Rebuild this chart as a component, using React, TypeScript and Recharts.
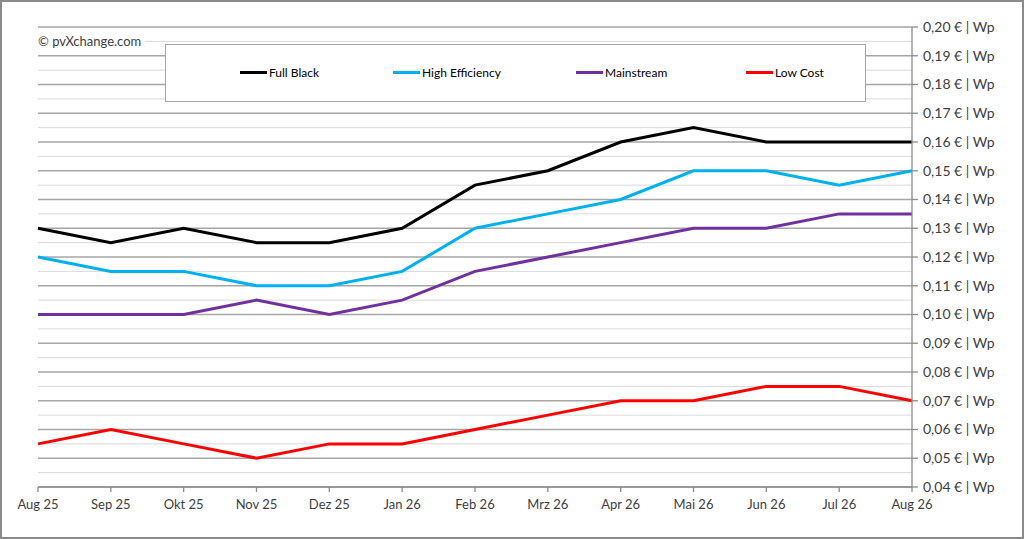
import { LineChart, Line, XAxis, YAxis, CartesianGrid } from 'recharts'

const MONTHS = [
  'Aug 25', 'Sep 25', 'Okt 25', 'Nov 25', 'Dez 25', 'Jan 26', 'Feb 26',
  'Mrz 26', 'Apr 26', 'Mai 26', 'Jun 26', 'Jul 26', 'Aug 26',
]

const FULL_BLACK = [0.13, 0.125, 0.13, 0.125, 0.125, 0.13, 0.145, 0.15, 0.16, 0.165, 0.16, 0.16, 0.16]
const HIGH_EFFICIENCY = [0.12, 0.115, 0.115, 0.11, 0.11, 0.115, 0.13, 0.135, 0.14, 0.15, 0.15, 0.145, 0.15]
const MAINSTREAM = [0.1, 0.1, 0.1, 0.105, 0.1, 0.105, 0.115, 0.12, 0.125, 0.13, 0.13, 0.135, 0.135]
const LOW_COST = [0.055, 0.06, 0.055, 0.05, 0.055, 0.055, 0.06, 0.065, 0.07, 0.07, 0.075, 0.075, 0.07]

const Y_TICKS = [
  0.04, 0.05, 0.06, 0.07, 0.08, 0.09, 0.1, 0.11, 0.12,
  0.13, 0.14, 0.15, 0.16, 0.17, 0.18, 0.19, 0.2,
]
const Y_MINOR = [
  0.045, 0.055, 0.065, 0.075, 0.085, 0.095, 0.105, 0.115,
  0.125, 0.135, 0.145, 0.155, 0.165, 0.175, 0.185, 0.195,
]

const SERIES = [
  { key: 'fullBlack', name: 'Full Black', color: '#000000', values: FULL_BLACK },
  { key: 'highEff', name: 'High Efficiency', color: '#00b0f0', values: HIGH_EFFICIENCY },
  { key: 'mainstream', name: 'Mainstream', color: '#7030a0', values: MAINSTREAM },
  { key: 'lowCost', name: 'Low Cost', color: '#ff0000', values: LOW_COST },
]

// legend item positions inside the legend box
const LEGEND_X = [74, 227, 410, 580]

const FONT = 'Lato, "Open Sans", sans-serif'
const AXIS_COLOR = '#8c8c8c'

const data = MONTHS.map((m, i) => {
  const row: Record<string, string | number> = { month: m }
  SERIES.forEach((s) => {
    row[s.key] = s.values[i]
  })
  return row
})

const fmtY = (v: number) => `${v.toFixed(2).replace('.', ',')} € | Wp`

export default function App() {
  return (
    <div
      style={{
        position: 'absolute',
        left: 0,
        top: 0,
        width: 1024,
        height: 539,
        background: '#fff',
        fontFamily: FONT,
      }}
    >
      <div
        style={{
          position: 'absolute',
          inset: 0,
          border: '2px solid #8a8a8a',
          boxSizing: 'border-box',
          pointerEvents: 'none',
        }}
      />
      <LineChart
        width={1024}
        height={539}
        data={data}
        margin={{ top: 27, right: 12, bottom: 22, left: 38 }}
      >
        <CartesianGrid
          vertical={false}
          horizontalValues={Y_MINOR}
          stroke='#d9d9d9'
          strokeWidth={1}
        />
        <CartesianGrid
          vertical={false}
          horizontalValues={Y_TICKS}
          stroke='#a6a6a6'
          strokeWidth={1.3}
        />
        <XAxis
          dataKey='month'
          height={30}
          tickSize={5}
          tickMargin={8}
          interval={0}
          axisLine={{ stroke: AXIS_COLOR, strokeWidth: 1.3 }}
          tickLine={{ stroke: AXIS_COLOR, strokeWidth: 1.3 }}
          tick={{ fontSize: 13, fill: '#404040', fontFamily: FONT }}
        />
        <YAxis
          orientation='right'
          width={100}
          domain={[0.04, 0.2]}
          ticks={Y_TICKS}
          interval={0}
          tickSize={6}
          tickMargin={5}
          tickFormatter={fmtY}
          axisLine={{ stroke: AXIS_COLOR, strokeWidth: 1.3 }}
          tickLine={{ stroke: AXIS_COLOR, strokeWidth: 1.3 }}
          tick={{ fontSize: 14, fill: '#404040', fontFamily: FONT, textAnchor: 'start' }}
        />
        {SERIES.map((s) => (
          <Line
            key={s.key}
            type='linear'
            dataKey={s.key}
            name={s.name}
            stroke={s.color}
            strokeWidth={3}
            dot={false}
            isAnimationActive={false}
          />
        ))}
      </LineChart>
      <div
        style={{
          position: 'absolute',
          left: 36,
          top: 33,
          padding: '0 4px 0 2px',
          background: '#fff',
          fontSize: 13,
          color: '#404040',
          lineHeight: '16px',
        }}
      >
        © pvXchange.com
      </div>
      <div
        style={{
          position: 'absolute',
          left: 165,
          top: 44,
          width: 701,
          height: 58,
          border: '1px solid #a6a6a6',
          background: '#fff',
          boxSizing: 'border-box',
        }}
      >
        {SERIES.map((s, i) => (
          <div
            key={s.key}
            style={{
              position: 'absolute',
              left: LEGEND_X[i],
              top: 20,
              display: 'flex',
              alignItems: 'center',
              fontSize: 12,
              color: '#000',
              whiteSpace: 'nowrap',
            }}
          >
            <span
              style={{
                display: 'inline-block',
                width: 27,
                height: 3,
                background: s.color,
                marginRight: 2,
              }}
            />
            {s.name}
          </div>
        ))}
      </div>
    </div>
  )
}
